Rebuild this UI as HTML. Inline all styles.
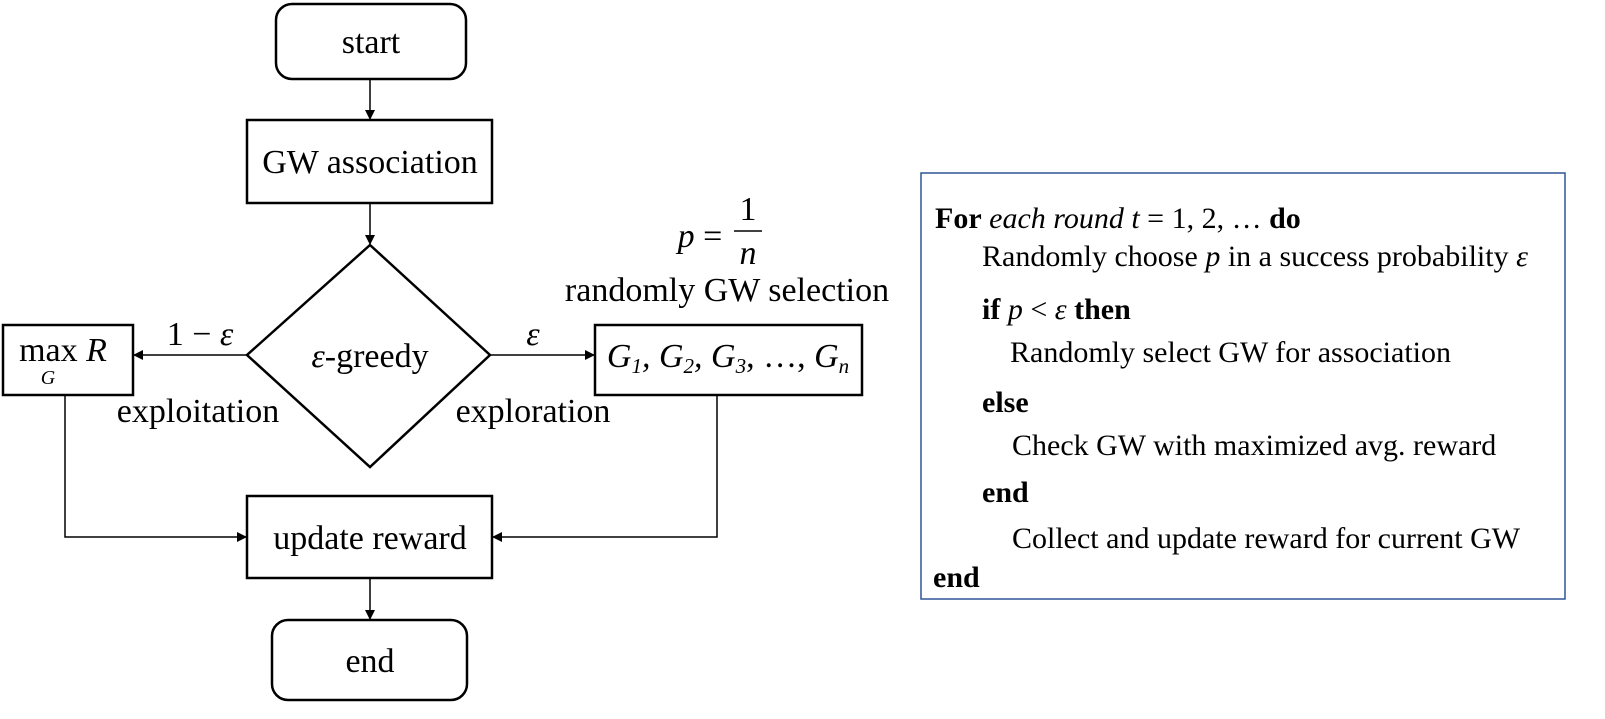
<!DOCTYPE html>
<html><head><meta charset="utf-8"><style>
html,body{margin:0;padding:0;background:#fff;}
svg{display:block;}
text{font-family:"Liberation Serif",serif;fill:#000;}
.i{font-style:italic;}
.b{font-weight:bold;}
</style></head><body>
<svg width="1605" height="719" viewBox="0 0 1605 719" xmlns="http://www.w3.org/2000/svg">
<defs><marker id="a" markerWidth="10" markerHeight="10" refX="9" refY="5" orient="auto" markerUnits="userSpaceOnUse"><path d="M0,0 L10,5 L0,10 z" fill="#000"/></marker></defs>
<g stroke="#000" stroke-width="2.5" fill="none">
<rect x="276" y="4" width="190" height="75" rx="16"/>
<rect x="247" y="120" width="245" height="83"/>
<polygon points="370,245 490,355 370,467 247,355"/>
<rect x="3" y="325" width="130" height="70"/>
<rect x="595" y="325" width="267" height="70"/>
<rect x="247" y="496" width="245" height="82"/>
<rect x="272" y="620" width="195" height="80" rx="16"/>
</g>
<g stroke="#000" stroke-width="1.5" fill="none">
<line x1="370" y1="79" x2="370" y2="119" marker-end="url(#a)"/>
<line x1="370" y1="203" x2="370" y2="244" marker-end="url(#a)"/>
<line x1="247" y1="355" x2="134" y2="355" marker-end="url(#a)"/>
<line x1="490" y1="355" x2="594" y2="355" marker-end="url(#a)"/>
<polyline points="65,395 65,537 246,537" marker-end="url(#a)"/>
<polyline points="717,395 717,537 493,537" marker-end="url(#a)"/>
<line x1="370" y1="578" x2="370" y2="619" marker-end="url(#a)"/>
<line x1="734" y1="231" x2="762" y2="231"/>
</g>
<g font-size="34" text-anchor="middle">
<text x="371" y="53">start</text>
<text x="370" y="173">GW association</text>
<text x="370" y="367"><tspan class="i">ε</tspan>-greedy</text>
<text x="63" y="361">max <tspan class="i">R</tspan></text>
<text x="48" y="384" font-size="20" class="i">G</text>
<text x="200" y="345">1 − <tspan class="i">ε</tspan></text>
<text x="533" y="345" class="i">ε</text>
<text x="198" y="422">exploitation</text>
<text x="533" y="422">exploration</text>
<text x="728" y="367" class="i">G<tspan font-size="21" dy="6">1</tspan><tspan dy="-6">, G</tspan><tspan font-size="21" dy="6">2</tspan><tspan dy="-6">, G</tspan><tspan font-size="21" dy="6">3</tspan><tspan dy="-6" font-style="normal">, …, </tspan>G<tspan font-size="21" dy="6">n</tspan></text>
<text x="700" y="247"><tspan class="i">p</tspan> =</text>
<text x="748" y="220">1</text>
<text x="748" y="264" class="i">n</text>
<text x="727" y="301">randomly GW selection</text>
<text x="370" y="549">update reward</text>
<text x="370" y="672">end</text>
</g>
<rect x="921" y="173" width="644" height="426" fill="none" stroke="#2f5597" stroke-width="1.5"/>
<g font-size="30">
<text x="935" y="228"><tspan class="b">For</tspan> <tspan class="i">each round t</tspan> = 1, 2, … <tspan class="b">do</tspan></text>
<text x="982" y="266">Randomly choose <tspan class="i">p</tspan> in a success probability <tspan class="i">ε</tspan></text>
<text x="982" y="319"><tspan class="b">if</tspan> <tspan class="i">p</tspan> &lt; <tspan class="i">ε</tspan> <tspan class="b">then</tspan></text>
<text x="1010" y="362">Randomly select GW for association</text>
<text x="982" y="412" class="b">else</text>
<text x="1012" y="455">Check GW with maximized avg. reward</text>
<text x="982" y="502" class="b">end</text>
<text x="1012" y="548">Collect and update reward for current GW</text>
<text x="933" y="587" class="b">end</text>
</g>
</svg>
</body></html>
